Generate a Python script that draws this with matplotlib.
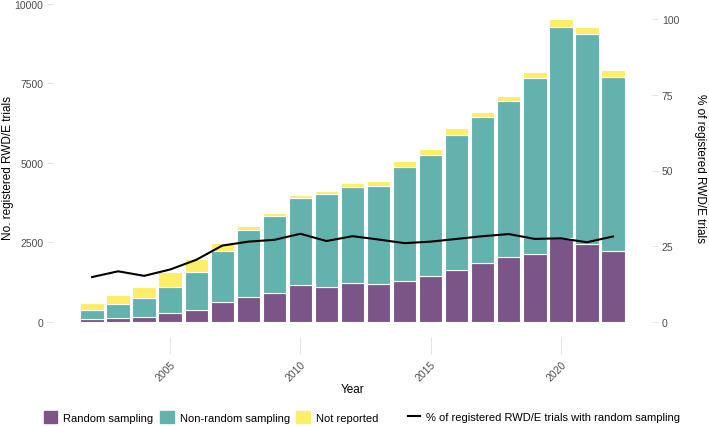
import matplotlib.pyplot as plt
from matplotlib.lines import Line2D
from matplotlib.patches import Patch

plt.rcParams['font.family'] = ['Liberation Sans', 'DejaVu Sans']

# ====================================
# DATA
# ====================================

years = list(range(2002, 2023))
random_sampling = [80, 126, 148, 274, 387, 619, 777, 912, 1154, 1091, 1217,
                   1195, 1299, 1437, 1645, 1866, 2054, 2138, 2632, 2453, 2223]
nonrandom_top = [368, 556, 755, 1110, 1582, 2233, 2903, 3333, 3890, 4016, 4255,
                 4287, 4874, 5242, 5890, 6447, 6960, 7673, 9277, 9066, 7714]
total = [588, 849, 1110, 1572, 1981, 2494, 3009, 3418, 3984, 4110, 4371,
         4444, 5053, 5440, 6110, 6604, 7097, 7862, 9518, 9267, 7915]
pct_random = [14.8, 16.7, 15.2, 17.3, 20.5, 25.2, 26.5, 27.1, 29.1, 26.7, 28.3,
              27.2, 26.0, 26.5, 27.4, 28.3, 29.0, 27.4, 27.6, 26.3, 28.2]

nonrandom_sampling = [t - r for t, r in zip(nonrandom_top, random_sampling)]
not_reported = [t - n for t, n in zip(total, nonrandom_top)]

c_random = '#7B5488'
c_nonrandom = '#63B2AE'
c_notrep = '#FDEE66'
tick_col = '#4D4D4D'
tick_line = '#E0E0E0'

# ====================================
# PLOT
# ====================================

fig = plt.figure(figsize=(7.09, 4.27), dpi=100)
ax = fig.add_axes([53 / 709, 1 - 338 / 427, 599 / 709, 333 / 427])

ax.bar(years, random_sampling, width=0.9, color=c_random,
       edgecolor='white', linewidth=0.8)
ax.bar(years, nonrandom_sampling, width=0.9, bottom=random_sampling,
       color=c_nonrandom, edgecolor='white', linewidth=0.8)
ax.bar(years, not_reported, width=0.9, bottom=nonrandom_top,
       color=c_notrep, edgecolor='white', linewidth=0.8)

ax.set_xlim(2000.5, 2023.5)
ax.set_ylim(-476, 9994)
ax.set_yticks([0, 2500, 5000, 7500, 10000])
ax.set_xticks([2005, 2010, 2015, 2020])
ax.tick_params(axis='x', length=12, width=0.6, color=tick_line, labelsize=7.5,
               labelcolor=tick_col, pad=4)
for lab in ax.get_xticklabels():
    lab.set_rotation(45)
    lab.set_ha('right')
    lab.set_va('top')
    lab.set_rotation_mode('anchor')
ax.tick_params(axis='y', length=4.5, width=0.6, color=tick_line, labelsize=7.5,
               labelcolor=tick_col, pad=2.5)
for s in ax.spines.values():
    s.set_visible(False)
ax.set_xlabel('Year', fontsize=8.5)
ax.xaxis.set_label_coords(0.5, -0.138)
ax.set_ylabel('No. registered RWD/E trials', fontsize=8.5, va='center')
ax.yaxis.set_label_coords(-0.075, 0.51)

ax2 = ax.twinx()
ax2.plot(years, pct_random, color='black', linewidth=1.5)
ax2.set_ylim(-476 / 95.18, 9994 / 95.18)
ax2.set_yticks([0, 25, 50, 75, 100])
ax2.tick_params(axis='y', length=4.5, width=0.6, color=tick_line, labelsize=7.5,
                labelcolor=tick_col, pad=2.5)
for s in ax2.spines.values():
    s.set_visible(False)
ax2.set_ylabel('% of registered RWD/E trials', fontsize=8.5, rotation=-90,
               va='center')
ax2.yaxis.set_label_coords(1.08, 0.51)

# ====================================
# LEGENDS
# ====================================

fill_handles = [Patch(color=c_random, label='Random sampling'),
                Patch(color=c_nonrandom, label='Non-random sampling'),
                Patch(color=c_notrep, label='Not reported')]
leg1 = fig.legend(handles=fill_handles, loc='center left',
                  bbox_to_anchor=(44 / 709, 1 - 418 / 427), ncol=3,
                  frameon=False, fontsize=8, handlelength=1.2,
                  handleheight=1.2, columnspacing=0.6, handletextpad=0.55,
                  borderpad=0, borderaxespad=0)
line_handles = [Line2D([], [], color='black', linewidth=1.5,
                       label='% of registered RWD/E trials with random sampling')]
fig.legend(handles=line_handles, loc='center left',
           bbox_to_anchor=(408 / 709, 1 - 418 / 427), frameon=False,
           fontsize=8, handlelength=1.05, handletextpad=0.55,
           borderpad=0, borderaxespad=0)

fig.savefig('out.png', dpi=100)
